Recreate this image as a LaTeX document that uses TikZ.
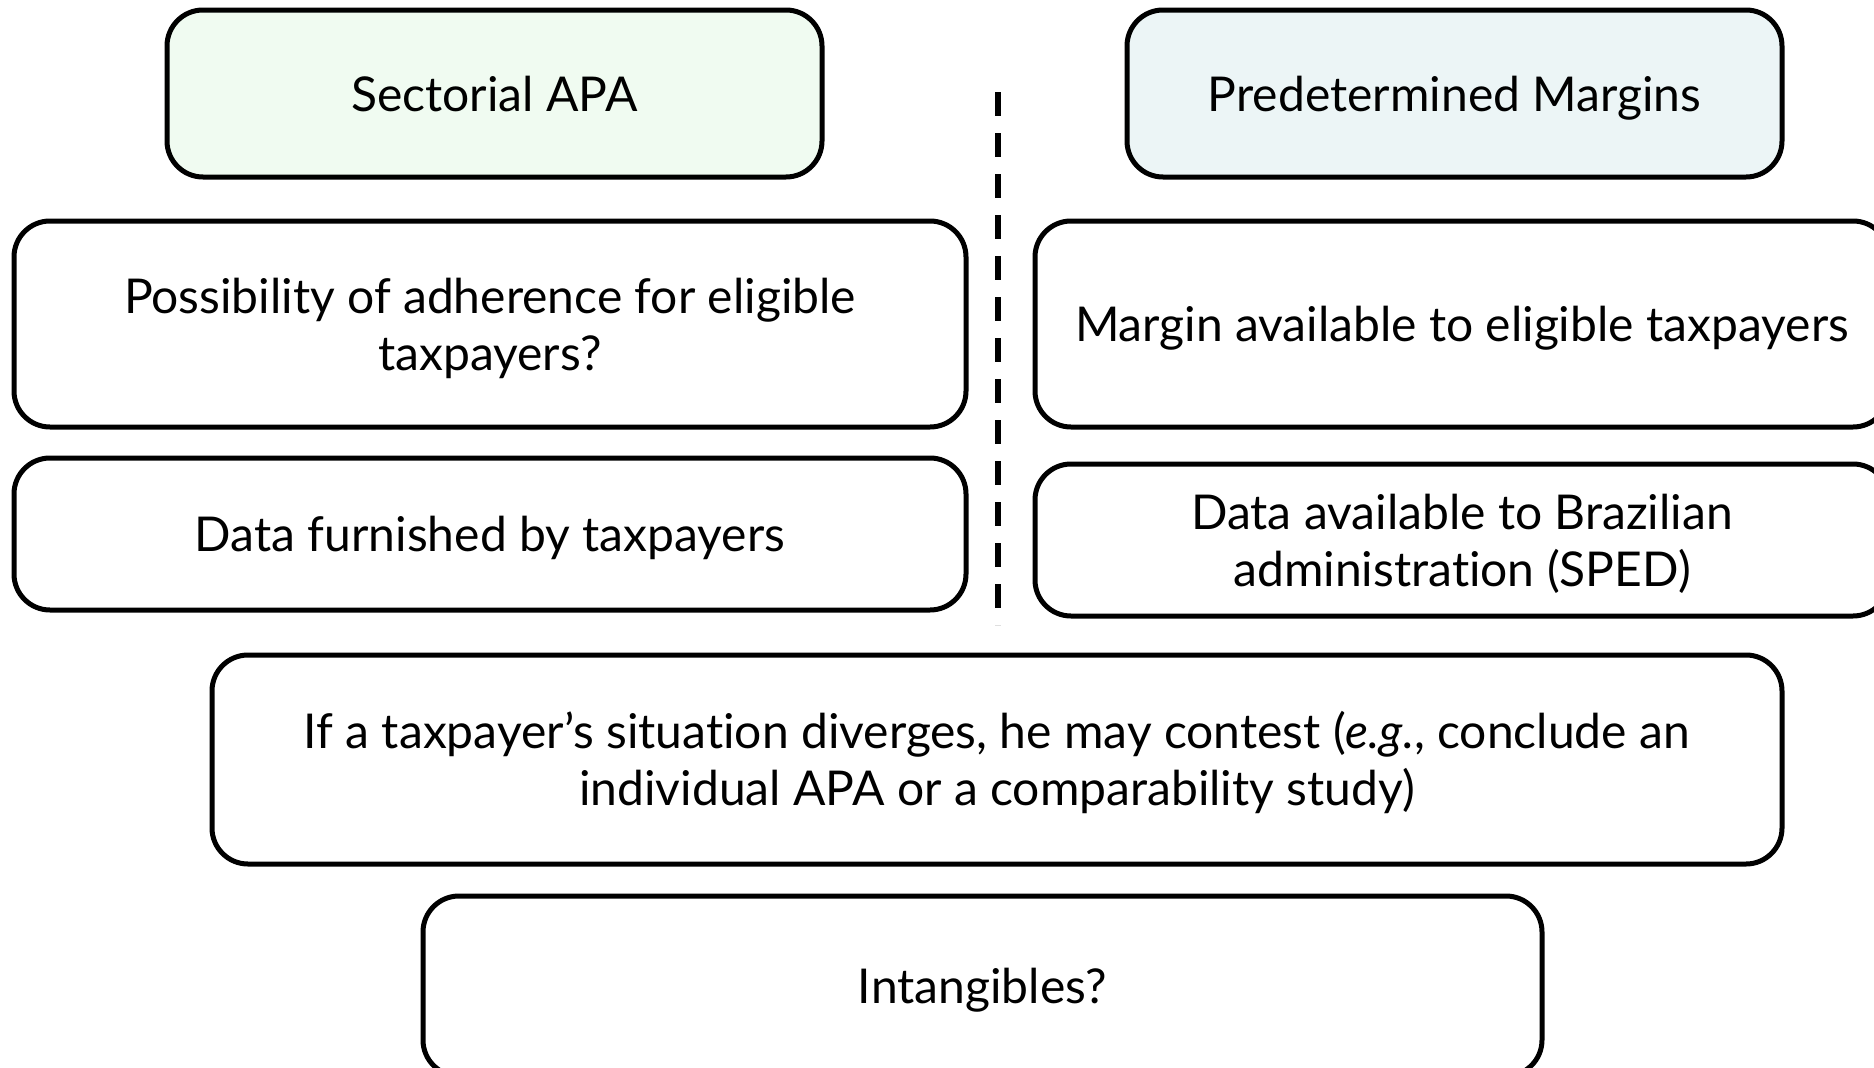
\documentclass[tikz,border=0pt]{standalone}
\usepackage{fontspec}
\setmainfont{Lato}[Ligatures=NoCommon]
\begin{document}
\begin{tikzpicture}[x=1pt,y=-1pt,
  box/.style={draw=black, line width=5pt, rounded corners=36pt, align=center,
    font=\fontsize{48}{57}\selectfont, inner sep=0pt, text height=35.5pt, text depth=0pt},
  twoline/.style={text height=92.5pt},
  divider/.style={line width=6pt, dash pattern=on 24pt off 17pt}]
\definecolor{greenfill}{HTML}{F0FBF1}
\definecolor{bluefill}{HTML}{ECF5F6}
\useasboundingbox (0,0) rectangle (1874,1068);
\clip (0,0) rectangle (1874,1068);
\node[box, fill=greenfill, minimum width=655pt, minimum height=167pt] (sect) at (494.5,93.5) {Sectorial APA};
\node[box, fill=bluefill, minimum width=655pt, minimum height=167pt] (pred) at (1454.5,93.5) {Predetermined Margins};
\node[box, twoline, minimum width=952pt, minimum height=206pt] (poss) at (490,324) {Possibility of adherence for eligible\\taxpayers?};
\node[box, minimum width=952pt, minimum height=152pt] (furn) at (490,534) {Data furnished by taxpayers};
\node[box, minimum width=854pt, minimum height=206pt] (marg) at (1462,324) {Margin available to eligible taxpayers};
\node[box, twoline, minimum width=854pt, minimum height=152pt] (dadm) at (1462,540) {Data available to Brazilian\\administration (SPED)};
\node[box, twoline, minimum width=1570pt, minimum height=209pt] (cont) at (997,759.5) {If a taxpayer’s situation diverges, he may contest (\textit{e.g.}, conclude an\\individual APA or a comparability study)};
\node[box, minimum width=1119pt, minimum height=180pt] (intang) at (982.5,986) {Intangibles?};
\coordinate (dtop) at (998,92);
\coordinate (dbot) at (998,625);
\draw[divider] (dtop) -- (dbot);
\end{tikzpicture}
\end{document}
